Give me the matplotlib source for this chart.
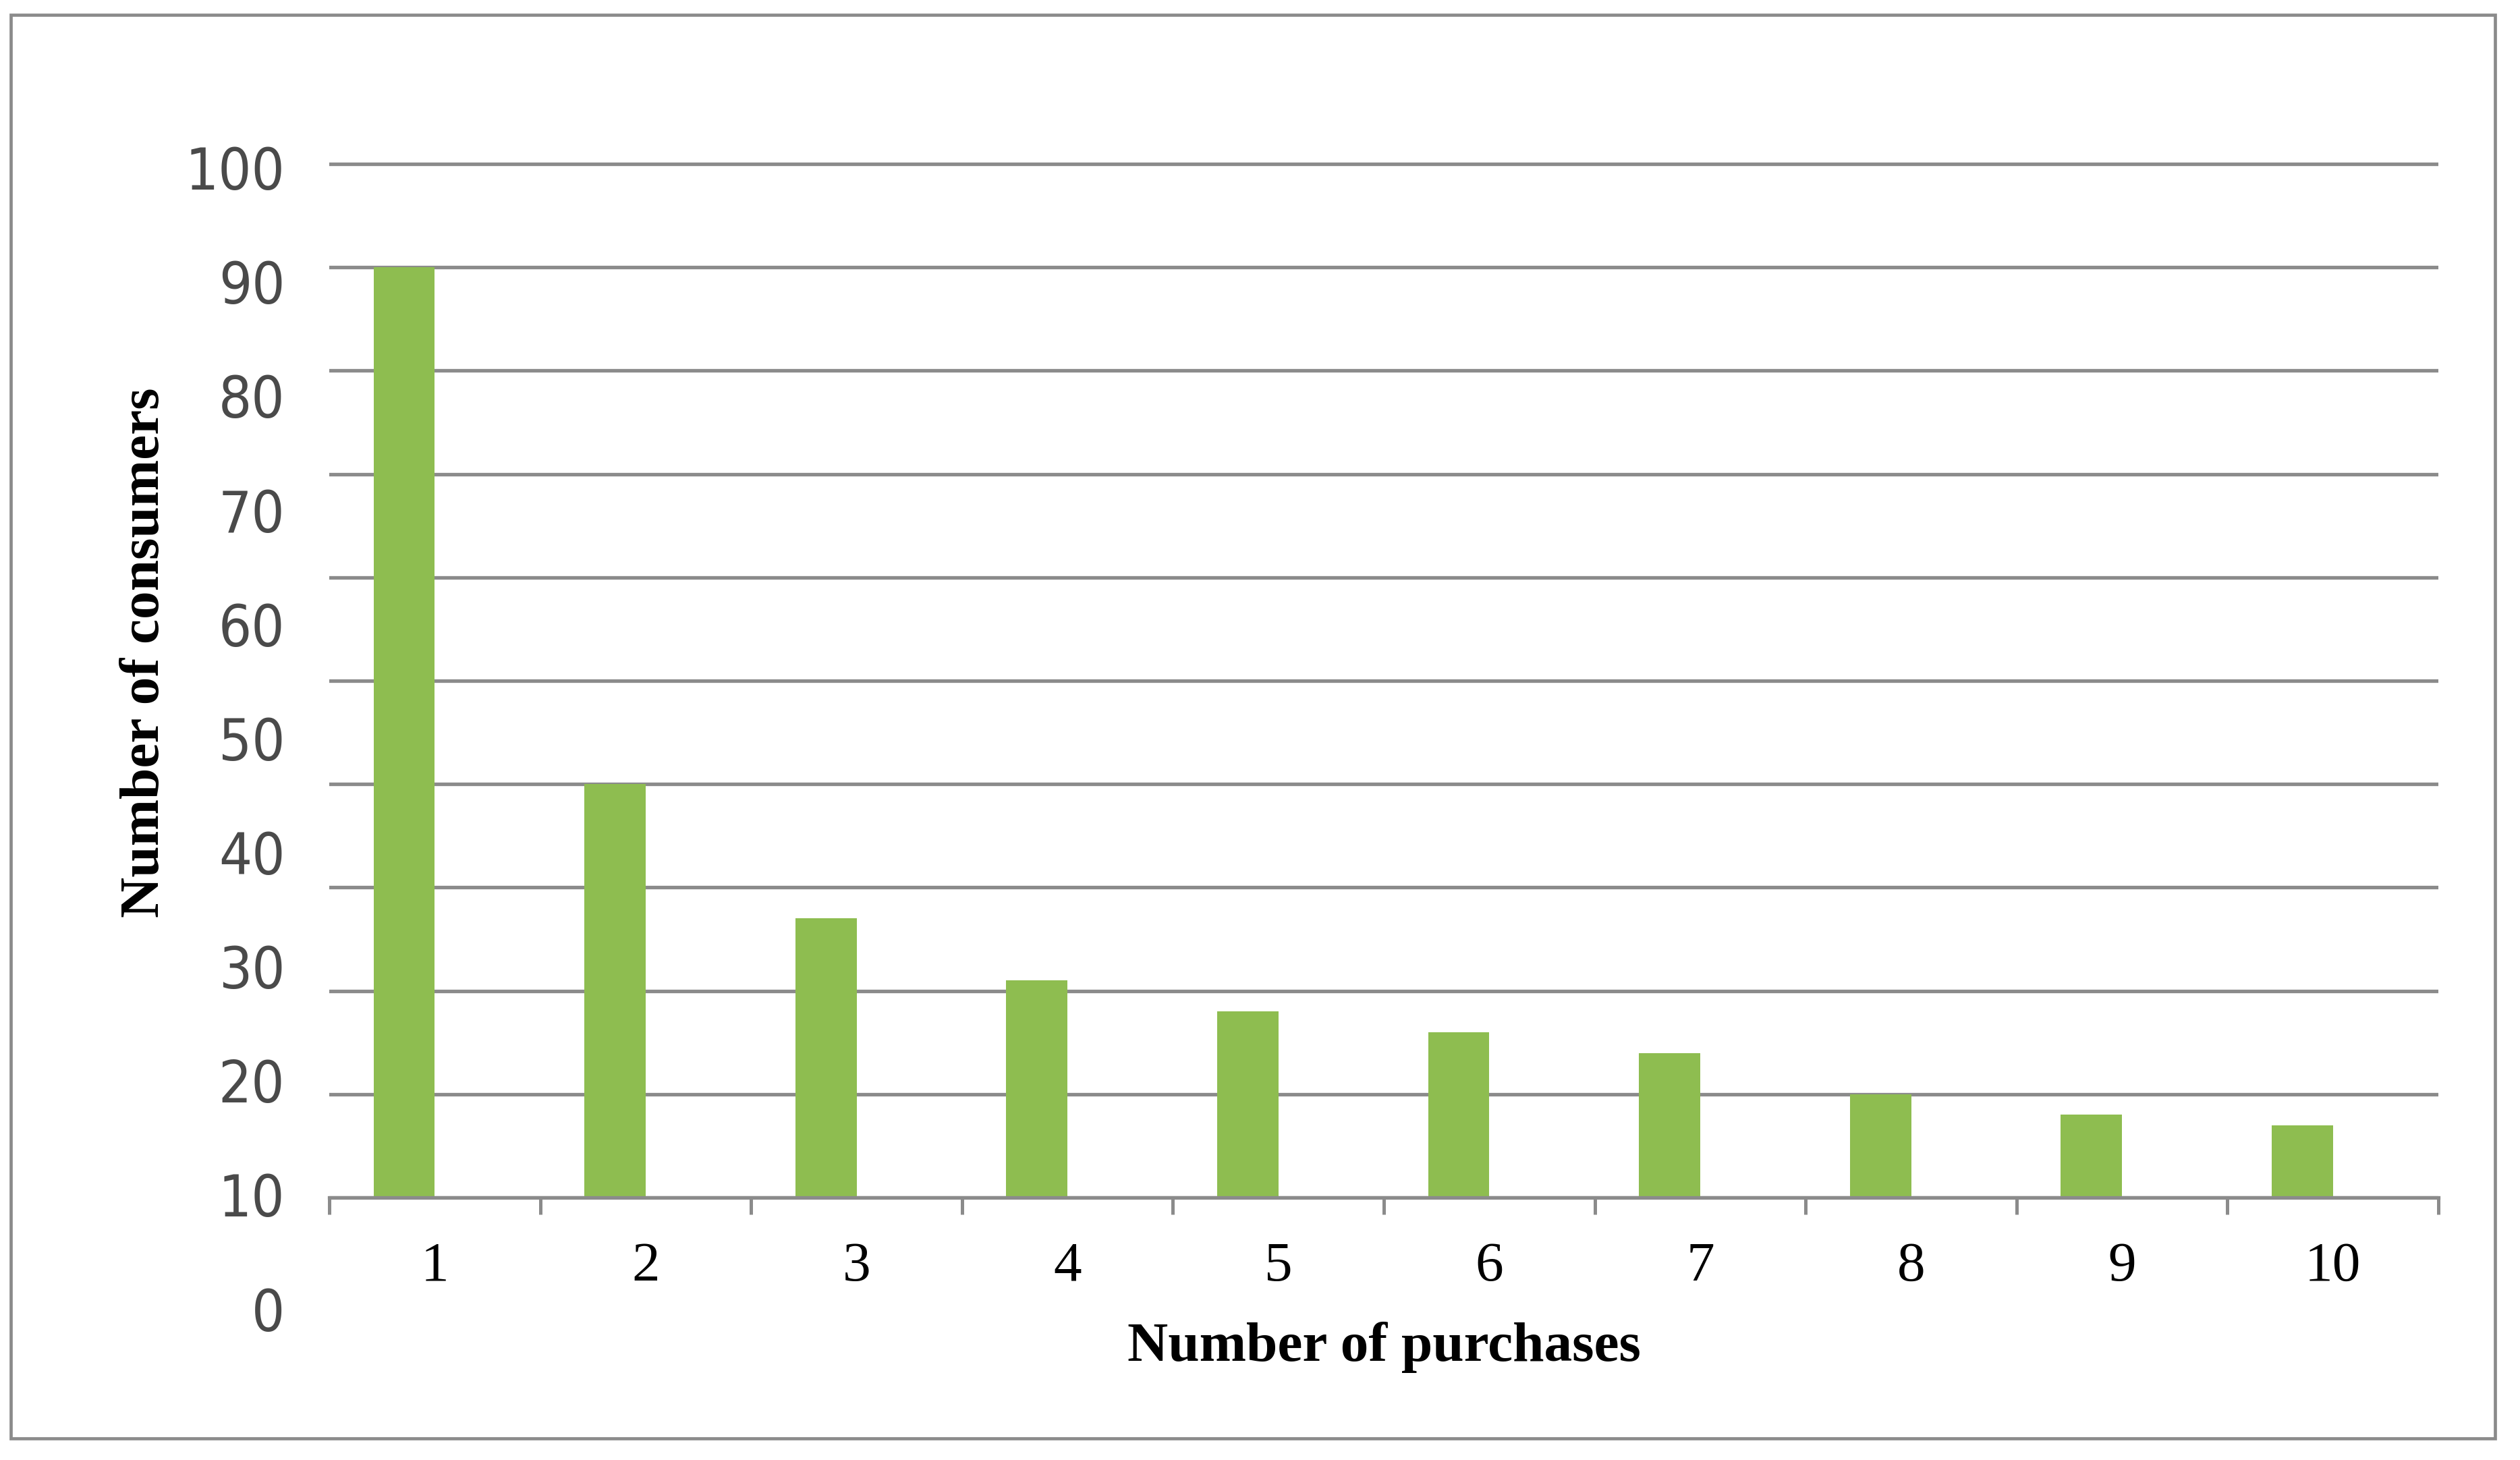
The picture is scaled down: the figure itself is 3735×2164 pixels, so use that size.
import matplotlib
matplotlib.use("Agg")
import matplotlib.pyplot as plt
from matplotlib.patches import Rectangle
import matplotlib.transforms as mtransforms

purchases = [1, 2, 3, 4, 5, 6, 7, 8, 9, 10]
consumers = [90, 40, 27, 21, 18, 16, 14, 10, 8, 7]
y_tick_values = [100, 90, 80, 70, 60, 50, 40, 30, 20, 10, 0]
x_title = "Number of purchases"
y_title = "Number of consumers"

W, H = 3735, 2164
gray = "#8b8b8b"
green = "#8ebd50"

fig = plt.figure(figsize=(W / 100, H / 100), dpi=100)
fig.patch.set_facecolor("white")

# plot area in pixels: x 488..3614, y(0)=1775, 10 units = 153.2 px
px_per_unit = 15.32
y_top = 101
top_px = 1775 - y_top * px_per_unit
ax = fig.add_axes([488 / W, 1 - 1775 / H, 3126 / W, (1775 - top_px) / H])

ax.bar(purchases, consumers, width=-0.29, align="edge", color=green, edgecolor="none", zorder=1)

ax.set_xlim(0.5, 10.5)
ax.set_ylim(0, y_top)

ax.set_yticks(range(0, 101, 10))
ax.yaxis.grid(True, color=gray, linewidth=3.8)
ax.set_axisbelow(True)
ax.tick_params(axis="y", length=0, labelleft=False)

ax.set_xticks(purchases)
ax.set_xticklabels([str(p) for p in purchases], fontfamily="Liberation Serif", fontsize=60)
ax.set_xticks([p + 0.5 for p in range(0, 11)], minor=True)
ax.tick_params(axis="x", which="major", length=0, pad=47)
ax.tick_params(axis="x", which="minor", length=18, width=3.6, color=gray, direction="out")

for s in ["left", "right", "top"]:
    ax.spines[s].set_visible(False)
ax.spines["bottom"].set_color(gray)
ax.spines["bottom"].set_linewidth(3.8)

# y labels are drawn off the grid, spaced wider than the gridlines
trans = mtransforms.blended_transform_factory(ax.transAxes, ax.transData)
for v in y_tick_values:
    pos = -11.36 + 1.104 * v
    ax.text(-0.021, pos, str(v), transform=trans, ha="right", va="center",
            fontsize=62, color="#4a4a4a", clip_on=False, fontstretch="condensed",
            family=["DejaVu Sans"])

fig.text((488 + 3614) / 2 / W, 1 - 2017 / H, x_title, ha="center", va="baseline",
         fontsize=60, fontweight="bold", family="Liberation Serif")
fig.text(215 / W, 1 - 967 / H, y_title, ha="center", va="center", rotation=90,
         fontsize=60, fontweight="bold", family="Liberation Serif")

fig.patches.append(Rectangle((16 / W, 1 - 2132 / H), (3698 - 16) / W, (2132 - 22) / H,
                             transform=fig.transFigure, fill=False, edgecolor=gray,
                             linewidth=3.4))

fig.savefig("out.png", dpi=100, facecolor="white")
